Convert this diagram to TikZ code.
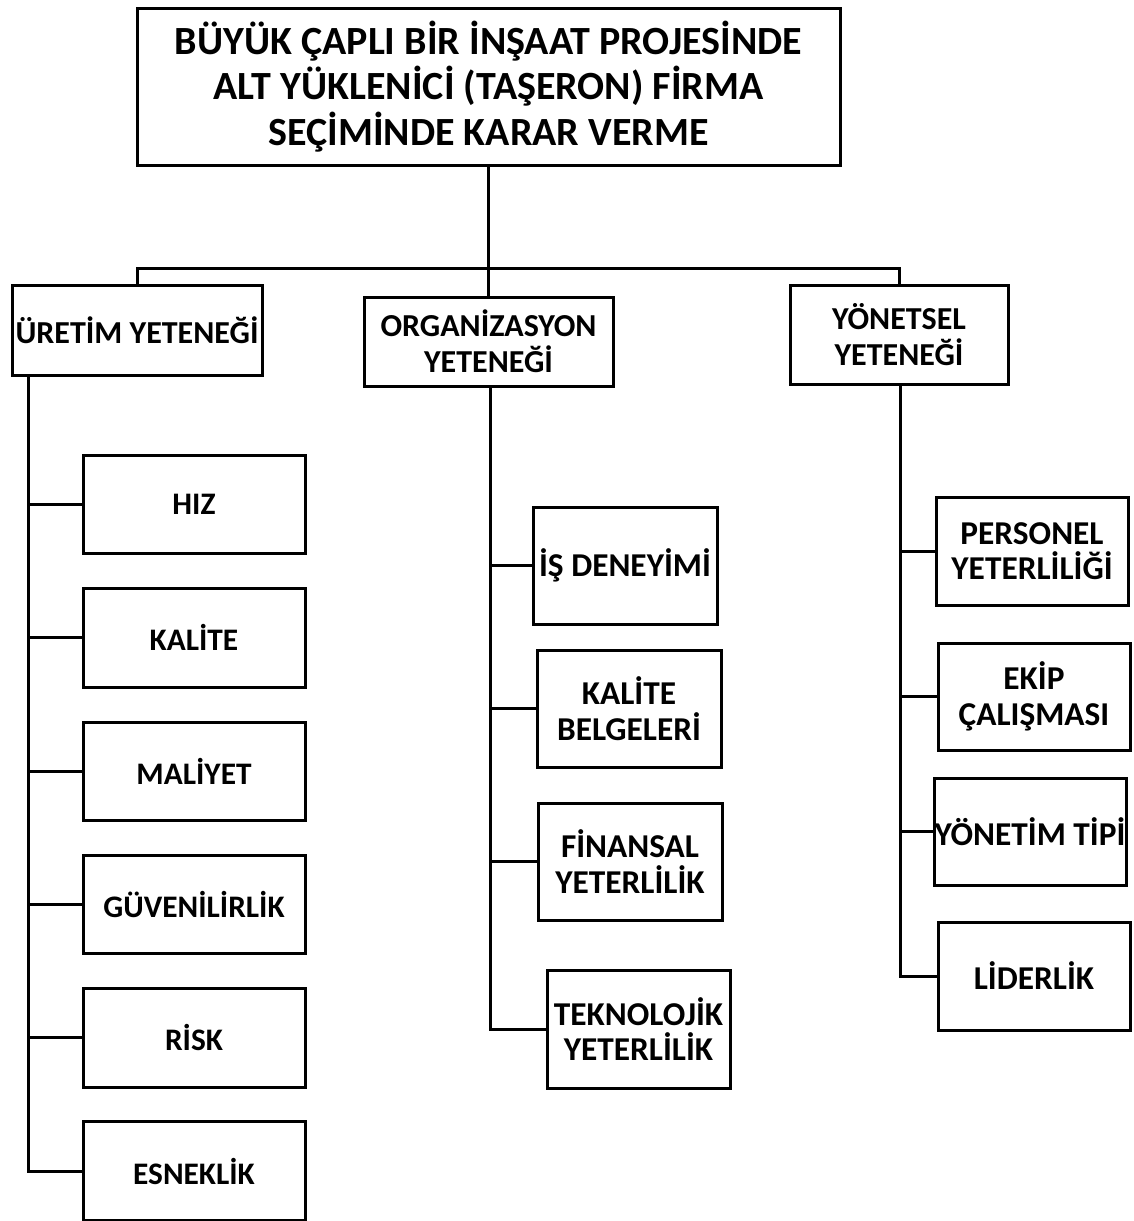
\documentclass[tikz,border=0pt]{standalone}
\usepackage{fontspec}
\setmainfont{Carlito}
\begin{document}
\begin{tikzpicture}[x=0.75pt,y=-0.75pt,
  every path/.style={line width=2.25pt},
  bx/.style 2 args={draw, line width=2.25pt, rectangle, inner sep=0pt, align=center,
     minimum width=#1*0.75pt, minimum height=#2*0.75pt},
  ttl/.style={font=\bfseries\fontsize{30}{34}\selectfont},
  mid/.style={font=\bfseries\fontsize{24}{27}\selectfont},
  leaf/.style={font=\bfseries\fontsize{25}{26.5}\selectfont},
  lft/.style={font=\bfseries\fontsize{23.5}{26}\selectfont},
  lnk/.style={line width=2.25pt}]
\useasboundingbox (0,0) rectangle (1133,1221);
\fill[white] (0,0) rectangle (1133,1221);
% title
\node[bx={703}{157}, ttl] (title) at (488.5,86.5) {BÜYÜK ÇAPLI BİR İNŞAAT PROJESİNDE\\ALT YÜKLENİCİ (TAŞERON) FİRMA\\SEÇİMİNDE KARAR VERME};
% level 2
\node[bx={250}{90}, mid] (uret) at (137,330) {ÜRETİM YETENEĞİ};
\node[bx={249}{89}, mid] (org) at (488.5,341.5) {ORGANİZASYON\\YETENEĞİ};
\node[bx={218}{99}, mid] (yon) at (899,334.5) {YÖNETSEL\\YETENEĞİ};
% left leaves
\node[bx={222}{98}, lft] (hiz) at (194,504) {HIZ};
\node[bx={222}{99}, lft] (kal) at (194,637.5) {KALİTE};
\node[bx={222}{98}, lft] (mal) at (194,771) {MALİYET};
\node[bx={222}{98}, lft] (guv) at (194,904) {GÜVENİLİRLİK};
\node[bx={222}{99}, lft] (risk) at (194,1037.5) {RİSK};
\node[bx={222}{99}, lft] (esn) at (194,1171) {ESNEKLİK};
% middle leaves
\node[bx={184}{117}, leaf] (isd) at (625,565.5) {İŞ DENEYİMİ};
\node[bx={184}{117}, leaf] (kbel) at (629,708.5) {KALİTE\\BELGELERİ};
\node[bx={184}{117}, leaf] (fin) at (630,861.5) {FİNANSAL\\YETERLİLİK};
\node[bx={183}{118}, leaf] (tek) at (638.5,1029) {TEKNOLOJİK\\YETERLİLİK};
% right leaves
\node[bx={192}{108}, leaf] (per) at (1032,551) {PERSONEL\\YETERLİLİĞİ};
\node[bx={192}{107}, leaf] (ekip) at (1034,696.5) {EKİP\\ÇALIŞMASI};
\node[bx={192}{107}, leaf] (ytip) at (1030,831.5) {YÖNETİM TİPİ};
\node[bx={192}{108}, leaf] (lid) at (1034,976) {LİDERLİK};
% top connectors
\coordinate (j) at (488.5,268);
\draw[lnk] (title.south) -- (j);
\draw[lnk] (uret.north) -- (uret.north |- j) -- (yon.north |- j) -- (yon.north);
\draw[lnk] (org.north) -- (j);
% left tree
\coordinate (lx) at (28,0);
\draw[lnk] (uret.south -| lx) -- (esn.west -| lx) -- (esn.west);
\foreach \n in {hiz,kal,mal,guv,risk}{\draw[lnk] (\n.west -| lx) -- (\n.west);}
% middle tree
\coordinate (mx) at (490,0);
\draw[lnk] (org.south -| mx) -- (tek.west -| mx) -- (tek.west);
\foreach \n in {isd,kbel,fin}{\draw[lnk] (\n.west -| mx) -- (\n.west);}
% right tree
\coordinate (rx) at (900,0);
\draw[lnk] (yon.south -| rx) -- (lid.west -| rx) -- (lid.west);
\foreach \n in {per,ekip,ytip}{\draw[lnk] (\n.west -| rx) -- (\n.west);}
\end{tikzpicture}
\end{document}
